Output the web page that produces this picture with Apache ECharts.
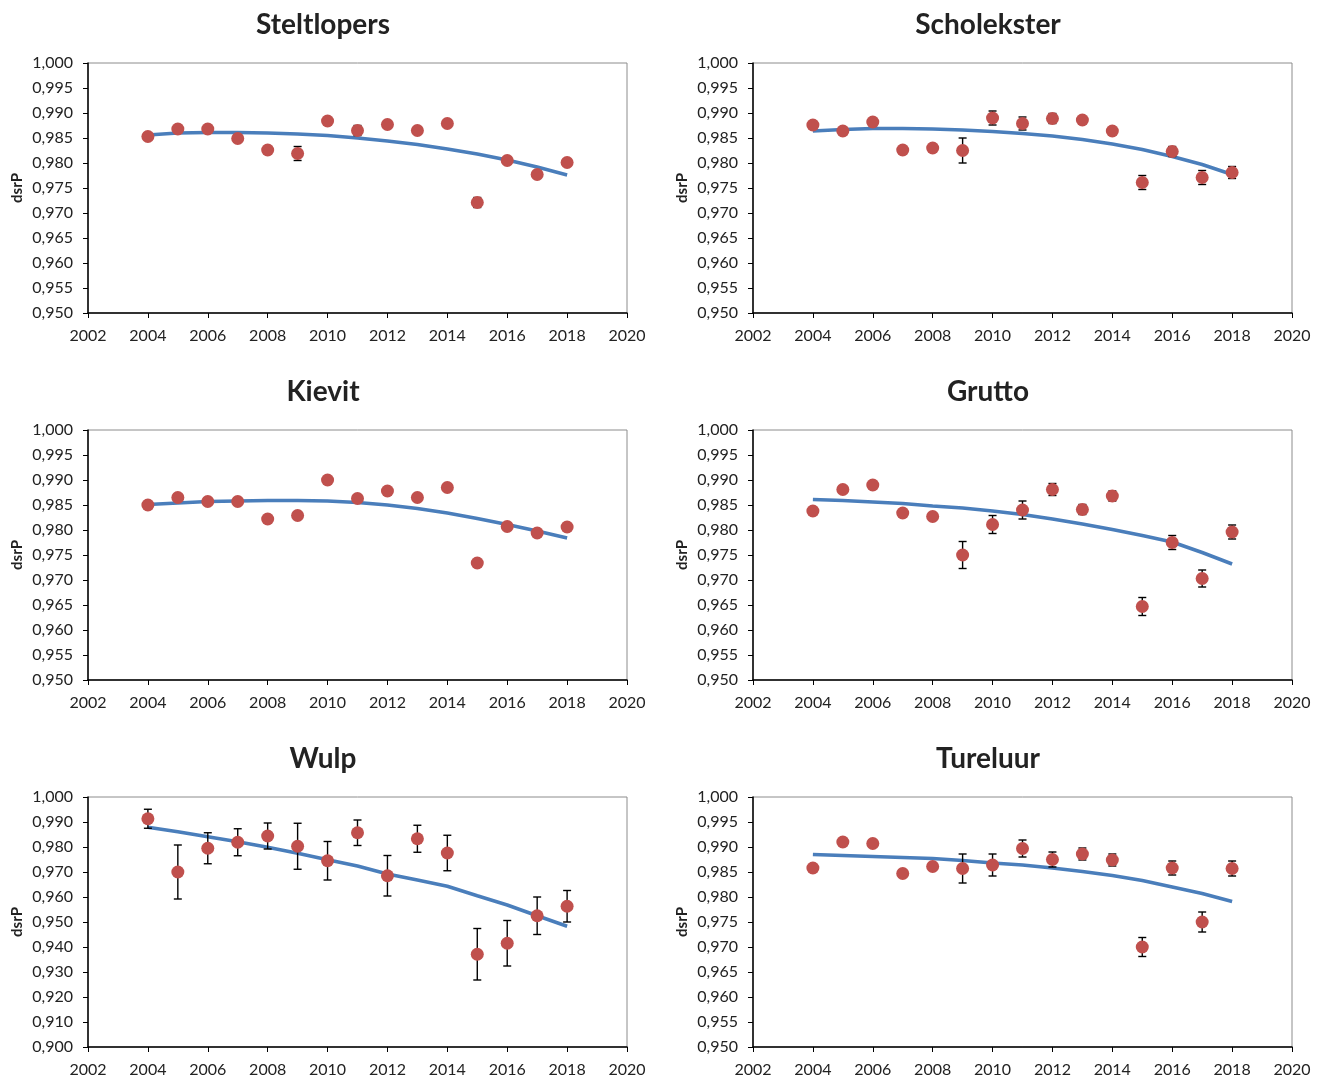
<!DOCTYPE html>
<html>
<head>
<meta charset="utf-8">
<script src="https://cdn.jsdelivr.net/npm/echarts@6/dist/echarts.min.js"></script>
<style>
html,body{margin:0;padding:0;background:#fff;}
#chart{width:1324px;height:1079px;}
</style>
</head>
<body>
<div id="chart"></div>
<script>
const years = [2004,2005,2006,2007,2008,2009,2010,2011,2012,2013,2014,2015,2016,2017,2018];
const xTicks = [2002,2004,2006,2008,2010,2012,2014,2016,2018,2020];

const titles = ['Steltlopers','Scholekster','Kievit','Grutto','Wulp','Tureluur'];

const steltlopersValues = [0.9853,0.9868,0.9868,0.9849,0.9826,0.9819,0.9884,0.9865,0.9877,0.9865,0.9879,0.9721,0.9805,0.9777,0.9801];
const steltlopersErr    = [0,0,0,0,0,0.0014,0,0.0010,0,0,0,0.0010,0,0,0];
const steltlopersTrend  = [0.9856,0.9860,0.9861,0.9861,0.9860,0.9858,0.9855,0.9850,0.9844,0.9837,0.9828,0.9818,0.9806,0.9792,0.9776];

const scholeksterValues = [0.9876,0.9864,0.9882,0.9826,0.9830,0.9825,0.9890,0.9879,0.9889,0.9886,0.9864,0.9761,0.9823,0.9771,0.9781];
const scholeksterErr    = [0,0,0,0.0006,0.0006,0.0025,0.0014,0.0013,0.0010,0.0005,0.0005,0.0014,0.0010,0.0014,0.0012];
const scholeksterTrend  = [0.9864,0.9867,0.9869,0.9869,0.9868,0.9866,0.9863,0.9859,0.9854,0.9847,0.9838,0.9827,0.9813,0.9797,0.9777];

const kievitValues = [0.9850,0.9865,0.9857,0.9857,0.9822,0.9829,0.9900,0.9863,0.9878,0.9865,0.9885,0.9734,0.9807,0.9794,0.9806];
const kievitErr    = [0,0,0,0,0,0,0,0,0,0,0,0,0,0,0];
const kievitTrend  = [0.9851,0.9854,0.9857,0.9858,0.9859,0.9859,0.9858,0.9855,0.9850,0.9843,0.9834,0.9823,0.9811,0.9798,0.9784];

const gruttoValues = [0.9838,0.9881,0.9890,0.9834,0.9827,0.9750,0.9811,0.9840,0.9881,0.9841,0.9868,0.9647,0.9775,0.9703,0.9796];
const gruttoErr    = [0,0,0,0,0,0.0027,0.0018,0.0018,0.0012,0.0010,0.0010,0.0018,0.0014,0.0017,0.0014];
const gruttoTrend  = [0.9861,0.9859,0.9856,0.9853,0.9848,0.9844,0.9838,0.9831,0.9822,0.9812,0.9801,0.9789,0.9776,0.9755,0.9732];

const wulpValues = [0.9913,0.9700,0.9795,0.9819,0.9844,0.9803,0.9745,0.9857,0.9685,0.9833,0.9776,0.9371,0.9415,0.9525,0.9563];
const wulpErr    = [0.0038,0.0108,0.0062,0.0054,0.0052,0.0092,0.0077,0.0051,0.0081,0.0054,0.0071,0.0103,0.0091,0.0075,0.0063];
const wulpTrend  = [0.9879,0.9861,0.9841,0.9821,0.9799,0.9775,0.9749,0.9724,0.9692,0.9668,0.9643,0.9605,0.9568,0.9525,0.9483];

const tureluurValues = [0.9858,0.9910,0.9907,0.9847,0.9861,0.9857,0.9864,0.9897,0.9875,0.9886,0.9874,0.9700,0.9858,0.9750,0.9857];
const tureluurErr    = [0,0,0,0.0004,0.0003,0.0029,0.0022,0.0017,0.0015,0.0012,0.0012,0.0019,0.0014,0.0020,0.0015];
const tureluurTrend  = [0.9885,0.9883,0.9881,0.9879,0.9877,0.9873,0.9868,0.9864,0.9858,0.9851,0.9843,0.9833,0.9820,0.9807,0.9791];

const yMins = [0.95,0.95,0.95,0.95,0.90,0.95];
const yIntervals = [0.005,0.005,0.005,0.005,0.01,0.005];

const panels = [
  {v:steltlopersValues,e:steltlopersErr,t:steltlopersTrend},
  {v:scholeksterValues,e:scholeksterErr,t:scholeksterTrend},
  {v:kievitValues,e:kievitErr,t:kievitTrend},
  {v:gruttoValues,e:gruttoErr,t:gruttoTrend},
  {v:wulpValues,e:wulpErr,t:wulpTrend},
  {v:tureluurValues,e:tureluurErr,t:tureluurTrend}
];

const FONT = 'Lato, "Open Sans", sans-serif';
const lefts = [88,753];
const tops = [63,430,797];
const W = 539, H = 250;

const grids=[], xAxes=[], yAxes=[], series=[];
panels.forEach((p,i)=>{
  const col = i%2, row = Math.floor(i/2);
  grids.push({left:lefts[col], top:tops[row], width:W, height:H, show:true, borderColor:'#8c8c8c', borderWidth:1, backgroundColor:'transparent'});
  xAxes.push({
    type:'value', gridIndex:i, min:2002, max:2020, interval:2,
    axisLine:{show:true,onZero:false,lineStyle:{color:'#000',width:1.5}},
    axisTick:{show:true,length:5,lineStyle:{color:'#000',width:1}},
    axisLabel:{margin:15,color:'#222',fontSize:16,fontFamily:FONT,formatter:v=>String(v)},
    splitLine:{show:false}
  });
  yAxes.push({
    type:'value', gridIndex:i, min:yMins[i], max:1.0, interval:yIntervals[i],
    name:'dsrP', nameLocation:'middle', nameRotate:90, nameGap:63,
    nameTextStyle:{fontWeight:'bold',fontSize:15,color:'#222',fontFamily:FONT},
    axisLine:{show:true,onZero:false,lineStyle:{color:'#000',width:1.5}},
    axisTick:{show:true,length:5,lineStyle:{color:'#000',width:1}},
    axisLabel:{margin:15,color:'#222',fontSize:16,fontFamily:FONT,formatter:v=>v.toFixed(3).replace('.',',')},
    splitLine:{show:false}
  });
  series.push({
    type:'line', xAxisIndex:i, yAxisIndex:i, z:1,
    data: years.map((y,k)=>[y,p.t[k]]),
    showSymbol:false, symbol:'none', smooth:false,
    lineStyle:{color:'#4a7ebb',width:3.5}, silent:true, animation:false
  });
  series.push({
    type:'custom', xAxisIndex:i, yAxisIndex:i, z:2, animation:false, silent:true,
    data: years.map((y,k)=>[y,p.v[k]-p.e[k],p.v[k]+p.e[k]]).filter((d,k)=>p.e[k]>0),
    renderItem:function(params,api){
      const x = api.value(0);
      const lo = api.coord([x,api.value(1)]);
      const hi = api.coord([x,api.value(2)]);
      const cw = 4;
      const st = {stroke:'#000',lineWidth:1.4};
      return {type:'group',children:[
        {type:'line',shape:{x1:lo[0],y1:lo[1],x2:hi[0],y2:hi[1]},style:st},
        {type:'line',shape:{x1:lo[0]-cw,y1:lo[1],x2:lo[0]+cw,y2:lo[1]},style:st},
        {type:'line',shape:{x1:hi[0]-cw,y1:hi[1],x2:hi[0]+cw,y2:hi[1]},style:st}
      ]};
    }
  });
  series.push({
    type:'scatter', xAxisIndex:i, yAxisIndex:i, z:3, animation:false,
    data: years.map((y,k)=>[y,p.v[k]]),
    symbol:'circle', symbolSize:13,
    itemStyle:{color:'#c0504d',opacity:1}
  });
});

const chart = echarts.init(document.getElementById('chart'));
chart.setOption({
  backgroundColor:'#fff',
  animation:false,
  grid:grids, xAxis:xAxes, yAxis:yAxes, series:series,
  graphic: titles.map((t,i)=>{
    const col=i%2,row=Math.floor(i/2);
    return {type:'text', x:(col===0?323:988), y:tops[row]-38,
      style:{text:t, textAlign:'center', textVerticalAlign:'middle', font:'bold 28px '+FONT, fill:'#222'}};
  })
});
</script>
</body>
</html>
